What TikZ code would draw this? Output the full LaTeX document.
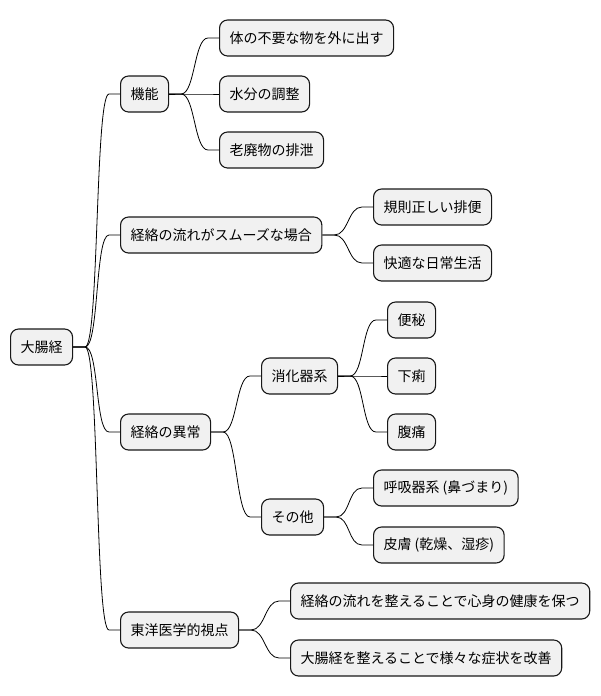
\documentclass[tikz,border=0pt]{standalone}
\usepackage{fontspec}
\setmainfont{Noto Sans CJK JP}
\definecolor{boxfill}{HTML}{F1F1F1}
\definecolor{boxline}{HTML}{181818}
\tikzset{
  mm/.style={draw=boxline, fill=boxfill, line width=1.1pt, rounded corners=8pt,
    minimum height=36pt, inner xsep=10pt, inner ysep=0pt, anchor=west,
    font=\fontsize{14pt}{16pt}\selectfont, text=black},
  link/.style={draw=black, line width=0.8pt}
}
\newcommand{\mmconn}[2]{\draw[link] (#1.east) -- ([xshift=12pt]#1.east) .. controls +(14pt,0) and +(-14pt,0) .. ([xshift=-11pt]#2.west) -- (#2.west);}
\begin{document}
\begin{tikzpicture}[x=1pt,y=-1pt]
\useasboundingbox (0,0) rectangle (600,696);
\node[mm] (root) at (10,347) {大腸経};
\node[mm] (kino) at (120,94) {機能};
\node[mm] (k1) at (219,38) {体の不要な物を外に出す};
\node[mm] (k2) at (219,94) {水分の調整};
\node[mm] (k3) at (219,150) {老廃物の排泄};
\node[mm] (smooth) at (120,235) {経絡の流れがスムーズな場合};
\node[mm] (s1) at (373,207) {規則正しい排便};
\node[mm] (s2) at (373,263) {快適な日常生活};
\node[mm] (ijo) at (120,432) {経絡の異常};
\node[mm] (shoka) at (261,376) {消化器系};
\node[mm] (b1) at (387,320) {便秘};
\node[mm] (b2) at (387,376) {下痢};
\node[mm] (b3) at (387,432) {腹痛};
\node[mm] (sonota) at (261,517) {その他};
\node[mm] (o1) at (373,488) {呼吸器系 (鼻づまり)};
\node[mm] (o2) at (373,545) {皮膚 (乾燥、湿疹)};
\node[mm] (toyo) at (120,630) {東洋医学的視点};
\node[mm] (t1) at (290,601) {経絡の流れを整えることで心身の健康を保つ};
\node[mm] (t2) at (290,658) {大腸経を整えることで様々な症状を改善};
\mmconn{root}{kino}
\mmconn{root}{smooth}
\mmconn{root}{ijo}
\mmconn{root}{toyo}
\mmconn{kino}{k1}
\mmconn{kino}{k2}
\mmconn{kino}{k3}
\mmconn{smooth}{s1}
\mmconn{smooth}{s2}
\mmconn{ijo}{shoka}
\mmconn{ijo}{sonota}
\mmconn{shoka}{b1}
\mmconn{shoka}{b2}
\mmconn{shoka}{b3}
\mmconn{sonota}{o1}
\mmconn{sonota}{o2}
\mmconn{toyo}{t1}
\mmconn{toyo}{t2}
\end{tikzpicture}
\end{document}
